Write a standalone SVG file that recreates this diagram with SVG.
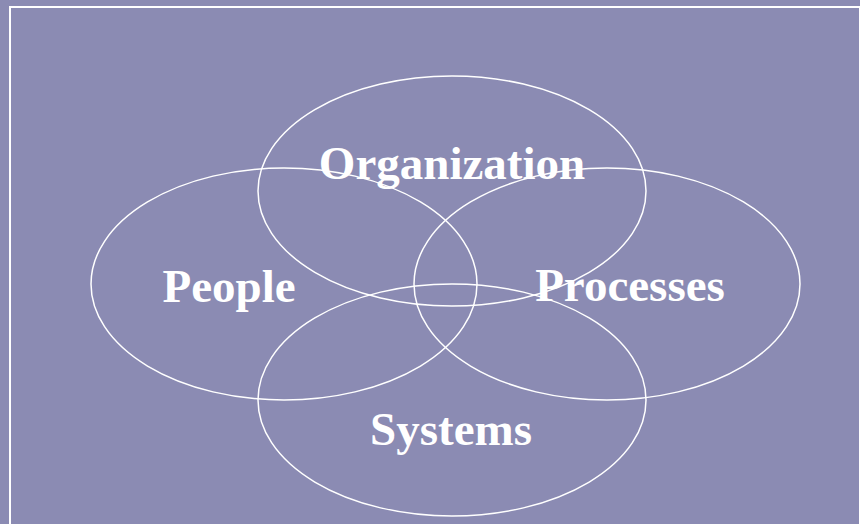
<svg xmlns="http://www.w3.org/2000/svg" width="860" height="524" viewBox="0 0 860 524">
<style>
.e{fill:none;stroke:#fff;stroke-width:1.5}
.t{fill:#fff;font-family:"Liberation Serif","Times New Roman",serif;font-weight:bold;font-size:47px;text-anchor:middle}
</style>
<rect x="0" y="0" width="860" height="524" fill="#8B8BB3"/>
<rect x="10" y="7" width="850" height="530" fill="none" stroke="#fff" stroke-width="2"/>
<g id="organization"><ellipse class="e" cx="452" cy="191" rx="194" ry="115"/></g>
<g id="people"><ellipse class="e" cx="284" cy="284" rx="193" ry="116"/></g>
<g id="processes"><ellipse class="e" cx="607" cy="284" rx="193" ry="116"/></g>
<g id="systems"><ellipse class="e" cx="452" cy="400" rx="194" ry="116"/></g>
<g id="labels">
<text class="t" x="452" y="179">Organization</text>
<text class="t" x="229" y="302">People</text>
<text class="t" x="630" y="301">Processes</text>
<text class="t" x="451" y="445">Systems</text>
</g>
</svg>
